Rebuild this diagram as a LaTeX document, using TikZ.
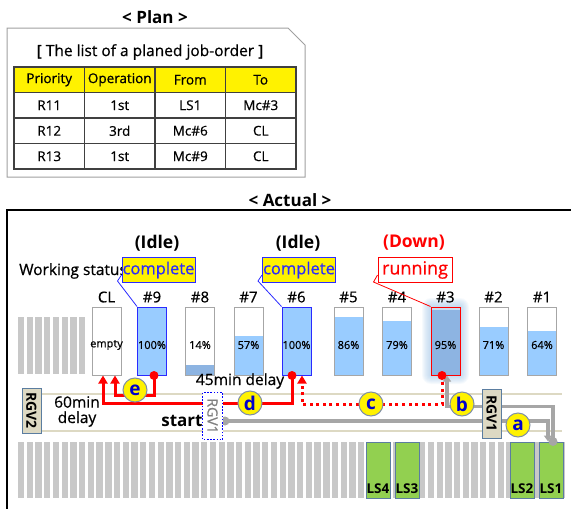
\documentclass[tikz,border=0pt]{standalone}
\usepackage{fontspec}
\setmainfont{Open Sans}[UprightFeatures={FakeBold=0.6}]
\usetikzlibrary{arrows.meta}
\newcommand\fsz[1]{\fontsize{#1}{#1}\selectfont}
\definecolor{plangray}{HTML}{A0A0A0}
\definecolor{tabgray}{HTML}{404040}
\definecolor{barblue}{HTML}{99CCFF}
\definecolor{bardark}{HTML}{8DB4E2}
\definecolor{bargray}{HTML}{A6A6A6}
\definecolor{bblue}{HTML}{2A2AFF}
\definecolor{stripe}{HTML}{C8C8C8}
\definecolor{track}{HTML}{DDD9C3}
\definecolor{beige}{HTML}{DDD9C3}
\definecolor{slate}{HTML}{5B7DA0}
\definecolor{lsgreen}{HTML}{92D050}
\definecolor{pathgray}{HTML}{A6A6A6}
\definecolor{circgray}{HTML}{7F8FA6}
\definecolor{letterblue}{HTML}{0000CC}
\definecolor{glow}{HTML}{9DC3E6}
\begin{document}
\begin{tikzpicture}[x=1pt,y=-1pt,
  cell/.style={draw=tabgray, line width=1.3pt, minimum width=70.5pt, minimum height=25.5pt, inner sep=0pt, font=\fsz{13.5}},
  bar/.style={draw=bargray, line width=1pt, minimum width=29pt, minimum height=68pt, inner sep=0pt},
  fillpct/.style 2 args={path picture={\fill[#2] (path picture bounding box.south west) rectangle ++(29,-0.68*#1);}},
  pct/.style={font=\fsz{11}, inner sep=0pt},
  collab/.style={font=\fsz{15}, inner sep=0pt},
  callout/.style={minimum width=73pt, minimum height=25pt, inner sep=0pt, font=\fsz{16.5}, line width=1pt},
  lbl/.style={circle, fill=yellow, draw=circgray, line width=1pt, minimum size=24pt, inner sep=0pt, text=letterblue, font=\bfseries\fsz{19}},
  rgv/.style={rotate=-90, fill=beige, draw=slate, line width=1pt, inner sep=0pt, font=\bfseries\fsz{14}},
  lsbox/.style={fill=lsgreen, draw=slate, line width=1pt, minimum width=24pt, minimum height=56pt, inner sep=0pt},
  lstext/.style={font=\bfseries\fsz{13.5}, inner sep=0pt},
  redln/.style={red, line width=3pt},
  reddot/.style={red, line width=3pt, dash pattern=on 3pt off 3.6pt},
  grayln/.style={pathgray, line width=3.5pt},
  redtip/.style={-{Triangle[length=8pt,width=9pt]}},
  graytip/.style={-{Triangle[length=6pt,width=8pt]}}
]
\useasboundingbox (0,0) rectangle (571,509);
% ---------------- Plan ----------------
\node[font=\bfseries\fsz{17}] (plantitle) at (155,17) {< Plan >};
\draw[plangray, line width=1pt] (7,28) -- (288,28) -- (305,45) -- (305,177) -- (7,177) -- cycle;
\node[font=\fsz{15.5}] (listtitle) at (150,52) {[ The list of a planed job-order ]};
\node[cell, fill=yellow] (h1) at (49.25,79.75) {Priority};
\node[cell, fill=yellow] (h2) at (119.75,79.75) {Operation};
\node[cell, fill=yellow] (h3) at (190.25,79.75) {From};
\node[cell, fill=yellow] (h4) at (260.75,79.75) {To};
\node[cell] (a1) at (49.25,105.25) {R11};
\node[cell] (a2) at (119.75,105.25) {1st};
\node[cell] (a3) at (190.25,105.25) {LS1};
\node[cell] (a4) at (260.75,105.25) {Mc\#3};
\node[cell] (b1) at (49.25,130.75) {R12};
\node[cell] (b2) at (119.75,130.75) {3rd};
\node[cell] (b3) at (190.25,130.75) {Mc\#6};
\node[cell] (b4) at (260.75,130.75) {CL};
\node[cell] (c1) at (49.25,156.25) {R13};
\node[cell] (c2) at (119.75,156.25) {1st};
\node[cell] (c3) at (190.25,156.25) {Mc\#9};
\node[cell] (c4) at (260.75,156.25) {CL};
% ---------------- Actual ----------------
\node[font=\bfseries\fsz{17}] (acttitle) at (290,200) {< Actual >};
\draw[black, line width=1.3pt] (7,515) -- (7,210) -- (575,210);
% stripes
\foreach \i in {0,...,7} \fill[stripe] (18+\i*8.72,317) rectangle ++(6.3,57);
\foreach \i in {0,...,62} \fill[stripe] (18+\i*8.72,442) rectangle ++(6.3,56);
\draw[track, line width=1.5pt] (41,394) -- (562,394);
\draw[track, line width=1.5pt] (41,431) -- (562,431);
% glow around #3
\foreach \i in {1,...,9} \fill[glow, opacity=0.09, rounded corners=\i pt] (431-\i,307-\i) rectangle (460+\i,375+\i);
% bars
\node[bar] (cl) at (106.5,341) {};
\node[bar, fill=barblue, draw=bblue] (m9) at (152,341) {};
\node[bar, fillpct={14}{bardark}] (m8) at (200,341) {};
\node[bar, fillpct={57}{barblue}] (m7) at (248.5,341) {};
\node[bar, fill=barblue, draw=bblue] (m6) at (296.5,341) {};
\node[bar, fillpct={86}{barblue}] (m5) at (348.5,341) {};
\node[bar, fillpct={79}{barblue}] (m4) at (397,341) {};
\node[bar, fillpct={95}{bardark}, draw=red] (m3) at (445.5,341) {};
\node[bar, fillpct={71}{barblue}] (m2) at (493.5,341) {};
\node[bar, fillpct={64}{barblue}] (m1) at (542,341) {};
\node[pct] (clt) at (106.5,345) {empty};
\node[pct] (m9t) at (152,345) {100\%};
\node[pct] (m8t) at (200,345) {14\%};
\node[pct] (m7t) at (248.5,345) {57\%};
\node[pct] (m6t) at (296.5,345) {100\%};
\node[pct] (m5t) at (348.5,345) {86\%};
\node[pct] (m4t) at (397,345) {79\%};
\node[pct] (m3t) at (445.5,345) {95\%};
\node[pct] (m2t) at (493.5,345) {71\%};
\node[pct] (m1t) at (542,345) {64\%};
\node[collab] (cll) at (106.5,297) {CL};
\node[collab] (m9l) at (152,297) {\#9};
\node[collab] (m8l) at (200,297) {\#8};
\node[collab] (m7l) at (248.5,297) {\#7};
\node[collab] (m6l) at (296.5,297) {\#6};
\node[collab] (m5l) at (348.5,297) {\#5};
\node[collab] (m4l) at (397,297) {\#4};
\node[collab] (m3l) at (445.5,297) {\#3};
\node[collab] (m2l) at (493.5,297) {\#2};
\node[collab] (m1l) at (542,297) {\#1};
% status texts
\node[anchor=west, font=\fsz{15.5}, inner sep=0pt] (ws) at (19,271) {Working status};
\node[font=\bfseries\fsz{17.5}] (idle1) at (157,243) {(Idle)};
\node[font=\bfseries\fsz{17.5}] (idle2) at (298,243) {(Idle)};
\node[font=\bfseries\fsz{17.5}, text=red] (down) at (414,243) {(Down)};
\node[callout, fill=yellow, draw=bblue, text=bblue] (comp1) at (158.5,270) {complete};
\node[callout, fill=yellow, draw=bblue, text=bblue] (comp2) at (299,270) {complete};
\node[callout, fill=white, draw=red, text=red, minimum width=74pt, font=\fsz{18}] (run) at (415,270) {running};
\draw[bblue, line width=0.8pt] ([yshift=-5pt]comp1.west) -- ++(-4,6) -- (m9.north west);
\draw[bblue, line width=0.8pt] ([yshift=-5pt]comp2.west) -- ++(-4,6) -- (m6.north west);
\draw[red, line width=0.8pt] ([yshift=-5pt]run.west) -- ++(-4,7) -- (m3.north west);
% LS boxes
\node[lsbox] (ls4) at (378,470) {};
\node[lsbox] (ls3) at (407,470) {};
\node[lsbox] (ls2) at (522,470) {};
\node[lsbox] (ls1) at (551,470) {};
\node[lstext] (ls4t) at (378,489) {LS4};
\node[lstext] (ls3t) at (407,489) {LS3};
\node[lstext] (ls2t) at (522,489) {LS2};
\node[lstext] (ls1t) at (551,489) {LS1};
% start RGV1 (dotted) position
\coordinate (startpt) at (225,421);
% paths
\draw[grayln, graytip] (startpt) -| ([xshift=-3pt]ls1.north);
\draw[grayln, graytip] ([xshift=2pt]ls1.north) -- ++(0,-35) -| ([xshift=1.5pt]m3.south);
\draw[reddot, redtip] ([xshift=-3.5pt]m3.south) -- ++(0,29) -| ([xshift=5.5pt]m6.south);
\draw[redln, redtip] ([xshift=-4.5pt]m6.south) -- ++(0,28) -| ([xshift=-3.5pt]cl.south);
\draw[redln, redtip] ([xshift=2pt]m9.south) -- ++(0,20) -| ([xshift=8.5pt]cl.south);
\fill[pathgray] (startpt) circle (4.5);
\fill[pathgray] ([xshift=2pt]ls1.north) circle (4.5);
\fill[red] ([xshift=-3.5pt]m3.south) circle (4.5);
\fill[red] ([xshift=-4.5pt]m6.south) circle (4.5);
\fill[red] ([xshift=2pt]m9.south) circle (4.5);
\node[rgv, fill=white, draw=blue, dash pattern=on 1.6pt off 1.6pt, line width=1.6pt, font=\fsz{14}, text=gray, minimum width=47pt, minimum height=20pt] (rgvs) at (212.5,416) {RGV1};
% RGV boxes
\node[rgv, minimum width=45pt, minimum height=19pt] (rgv2) at (31.5,410.5) {RGV2};
\node[rgv, minimum width=49pt, minimum height=19pt] (rgv1) at (491.5,413.5) {RGV1};
% circles
\node[lbl] (la) at (518,425) {a};
\node[lbl] (lb) at (462,404) {b};
\node[lbl] (lc) at (371,404) {c};
\node[lbl] (ld) at (250,403) {d};
\node[lbl] (le) at (135,390) {e};
% texts
\node[font=\fsz{15.5}, inner sep=0pt] (d60a) at (77,402) {60min};
\node[font=\fsz{15.5}, inner sep=0pt] (d60b) at (77,419) {delay};
\node[font=\fsz{15.5}, inner sep=0pt] (d45) at (240,381) {45min delay};
\node[font=\bfseries\fsz{17}, inner sep=0pt] (start) at (182,421) {start};
\end{tikzpicture}
\end{document}
